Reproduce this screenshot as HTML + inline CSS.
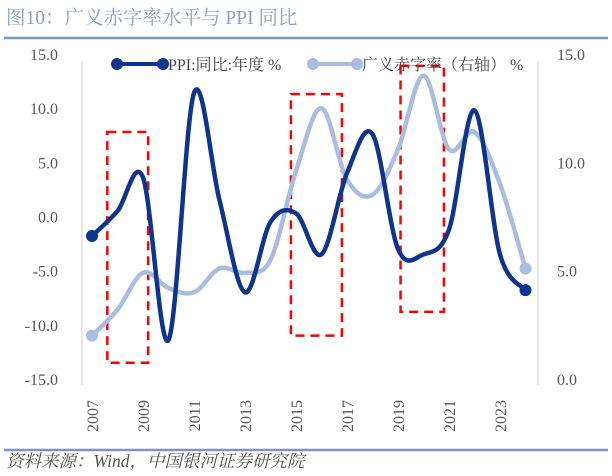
<!DOCTYPE html>
<html><head><meta charset="utf-8"><style>
body{margin:0;background:#fff;font-family:"Liberation Serif","Noto Serif CJK SC",serif;}
svg text{font-family:"Liberation Serif","Noto Serif CJK SC",serif;}
</style></head><body>
<svg id="c" width="612" height="471">
<text x="6" y="24" font-size="19.5" fill="#8a9fc9">图10：广义赤字率水平与 PPI 同比</text>
<line x1="4" y1="38" x2="608" y2="38" stroke="#7f93c2" stroke-width="2.5"/>
<line x1="4" y1="450" x2="608" y2="450" stroke="#7f93c2" stroke-width="2.5"/>
<text x="6" y="467" font-size="17.5" fill="#555" font-style="italic">资料来源：Wind，中国银河证券研究院</text>
<line x1="82" y1="62" x2="82" y2="385" stroke="#ccc"/>
<line x1="538" y1="62" x2="538" y2="385" stroke="#ccc"/>
<g id="boxes"></g>
<g id="series"></g>
<g id="axes"></g>
<g>
<line x1="117" y1="64" x2="163" y2="64" stroke="#0d3590" stroke-width="4"/>
<circle cx="117" cy="64" r="6" fill="#0d3590"/><circle cx="163" cy="64" r="6" fill="#0d3590"/>
<text x="168" y="70" font-size="16" fill="#444">PPI:同比:年度 %</text>
<line x1="313" y1="64" x2="357" y2="64" stroke="#a9bde3" stroke-width="4"/>
<circle cx="313" cy="64" r="6" fill="#a9bde3"/><circle cx="357" cy="64" r="6" fill="#a9bde3"/>
<text x="362" y="70" font-size="16" fill="#444">广义赤字率（右轴） %</text>
</g>
</svg>
<script>
const years=[2007,2008,2009,2010,2011,2012,2013,2014,2015,2016,2017,2018,2019,2020,2021,2022,2023,2024];
const ppi=[-1.8,0.5,3.6,-11.4,11.4,1.5,-7.0,-0.5,0.3,-3.5,4.0,7.6,-3.0,-3.5,-1.2,9.8,-3.5,-6.8];
const deficit=[2.0,3.2,4.9,4.2,4.0,5.1,4.9,5.5,9.6,12.5,9.2,8.5,10.6,14.0,10.6,11.4,9.0,5.1];
const leftTicks=[15,10,5,0,-5,-10,-15];
const rightTicks=[15,10,5,0];
const xLabels=[2007,2009,2011,2013,2015,2017,2019,2021,2023];
const boxes=[[2007.6,2009.2,7.8,-13.5],[2014.8,2016.8,11.3,-11.0],[2019.1,2020.8,13.9,-8.8]];
const NS="http://www.w3.org/2000/svg";
const X=y=>92+(y-2007)*25.5;
const YL=v=>216.5-v*10.833;
const YR=v=>379-v*21.667;
function mk(t,a,p){const e=document.createElementNS(NS,t);for(const k in a)e.setAttribute(k,a[k]);document.getElementById(p).appendChild(e);return e;}
function smooth(pts){let d=`M${pts[0][0]},${pts[0][1]}`;for(let i=0;i<pts.length-1;i++){const p0=pts[i-1]||pts[i],p1=pts[i],p2=pts[i+1],p3=pts[i+2]||p2;
d+=` C${p1[0]+(p2[0]-p0[0])/6},${p1[1]+(p2[1]-p0[1])/6} ${p2[0]-(p3[0]-p1[0])/6},${p2[1]-(p3[1]-p1[1])/6} ${p2[0]},${p2[1]}`;}return d;}
boxes.forEach(b=>{const r=mk('rect',{x:X(b[0]),y:YL(b[2]),width:X(b[1])-X(b[0]),height:YL(b[3])-YL(b[2]),fill:'none',stroke:'#f00','stroke-width':2.5,'stroke-dasharray':'9,6'},'boxes');

});
const dp=years.map((y,i)=>[X(y),YR(deficit[i])]);
const l2=mk('path',{d:smooth(dp),fill:'none',stroke:'#a9bde3','stroke-width':4.5},'series');


const pp=years.map((y,i)=>[X(y),YL(ppi[i])]);
const l1=mk('path',{d:smooth(pp),fill:'none',stroke:'#0d3590','stroke-width':4.5},'series');


[[dp,'#a9bde3','deficit'],[pp,'#0d3590','ppi']].forEach(([p,c,n])=>{[p[0],p[p.length-1]].forEach(q=>{const e=mk('circle',{cx:q[0],cy:q[1],r:6,fill:c},'series');

});});
leftTicks.forEach(v=>{const t=mk('text',{x:58,y:YL(v)+6,'font-size':16,fill:'#555','text-anchor':'end'},'axes');t.textContent=v.toFixed(1);

});
rightTicks.forEach(v=>{const t=mk('text',{x:557,y:YR(v)+6,'font-size':16,fill:'#555'},'axes');t.textContent=v.toFixed(1);

});
xLabels.forEach(y=>{const t=mk('text',{x:0,y:0,'font-size':16,fill:'#555','text-anchor':'end',transform:`translate(${X(y)+6},${400}) rotate(-90)`},'axes');t.textContent=y;

});
</script>
</body></html>
